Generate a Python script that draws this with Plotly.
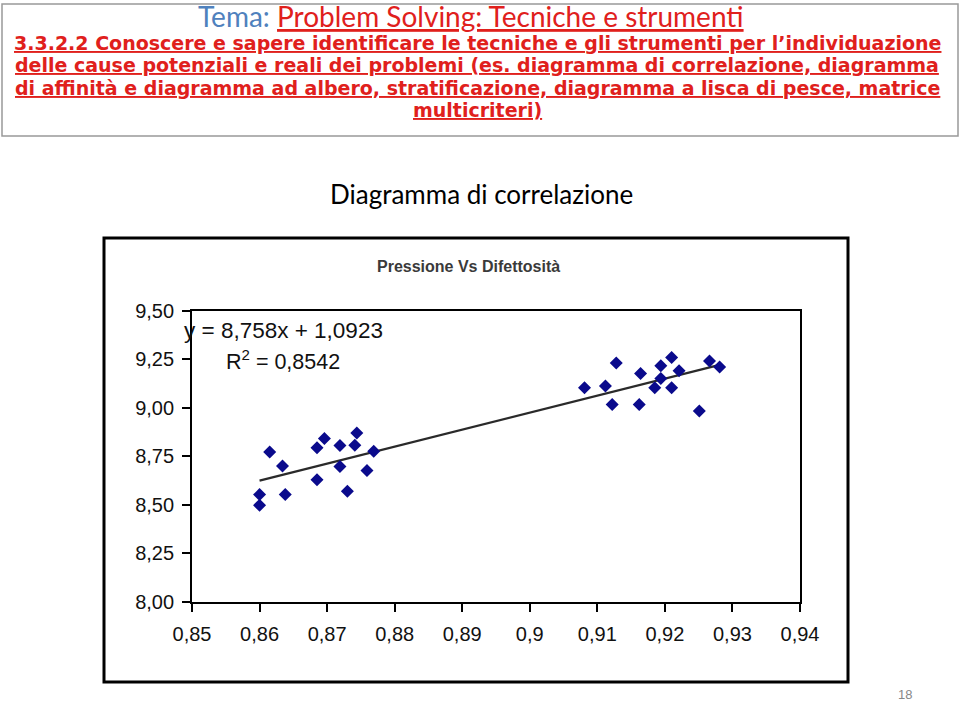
import plotly.graph_objects as go

W, H = 960, 703

# pressione (x) vs difettosità (y)
pressione = [
    0.8600, 0.8600, 0.8615, 0.8634, 0.8638, 0.8685, 0.8685, 0.8696,
    0.8719, 0.8719, 0.8730, 0.8741, 0.8744, 0.8759, 0.8769,
    0.9081, 0.9112, 0.9122, 0.9128, 0.9162, 0.9164, 0.9185, 0.9194,
    0.9194, 0.9210, 0.9210, 0.9221, 0.9251, 0.9266, 0.9281,
]
difettosita = [
    8.552, 8.497, 8.772, 8.700, 8.552, 8.629, 8.793, 8.841,
    8.805, 8.697, 8.569, 8.807, 8.869, 8.676, 8.776,
    9.103, 9.112, 9.017, 9.231, 9.017, 9.176, 9.103, 9.216,
    9.150, 9.259, 9.103, 9.190, 8.983, 9.241, 9.210,
]

# linear trendline as printed on the chart
slope, intercept = 8.758, 1.0923

x_ticks = [0.85, 0.86, 0.87, 0.88, 0.89, 0.90, 0.91, 0.92, 0.93, 0.94]
x_ticktext = ["0,85", "0,86", "0,87", "0,88", "0,89", "0,9", "0,91", "0,92", "0,93", "0,94"]
y_ticks = [8.00, 8.25, 8.50, 8.75, 9.00, 9.25, 9.50]
y_ticktext = ["8,00", "8,25", "8,50", "8,75", "9,00", "9,25", "9,50"]

header_lines = [
    "3.3.2.2 Conoscere e sapere identificare le tecniche e gli strumenti per l’individuazione",
    "delle cause potenziali e reali dei problemi (es. diagramma di correlazione, diagramma",
    "di affinità e diagramma ad albero, stratificazione, diagramma a lisca di pesce, matrice",
    "multicriteri)",
]

RED = "#E0201C"


def px(x):
    return x / W


def py(y):
    return 1 - y / H


trend_x = [min(pressione), max(pressione)]
trend_y = [slope * v + intercept for v in trend_x]

fig = go.Figure()

fig.add_trace(
    go.Scatter(
        x=trend_x,
        y=trend_y,
        mode="lines",
        line=dict(color="#2a2a2a", width=2.2),
        hoverinfo="skip",
    )
)

fig.add_trace(
    go.Scatter(
        x=pressione,
        y=difettosita,
        mode="markers",
        marker=dict(symbol="diamond", size=10, color="#0a0a8c"),
        name="Difettosità",
    )
)

axis_style = dict(
    ticks="outside",
    ticklen=8,
    tickwidth=1.5,
    tickcolor="black",
    showline=True,
    linecolor="black",
    linewidth=1.8,
    mirror=True,
    showgrid=False,
    zeroline=False,
    automargin=False,
    tickfont=dict(family="Liberation Sans", size=20, color="#111"),
)

fig.update_xaxes(
    domain=[px(192), px(800)],
    range=[0.85, 0.94],
    tickvals=x_ticks,
    ticktext=x_ticktext,
    ticklabelstandoff=5,
    **axis_style,
)
fig.update_yaxes(
    domain=[py(601.7), py(310.7)],
    range=[8.0, 9.5],
    tickvals=y_ticks,
    ticktext=y_ticktext,
    ticklabelstandoff=4,
    **axis_style,
)

shapes = [
    # header box
    dict(type="rect", xref="paper", yref="paper",
         x0=px(2), x1=px(958), y0=py(136), y1=py(4),
         line=dict(color="#999999", width=1.5)),
    # chart picture frame
    dict(type="rect", xref="paper", yref="paper",
         x0=px(104), x1=px(848), y0=py(682), y1=py(238),
         line=dict(color="black", width=3)),
]

annotations = [
    dict(text="<span style='color:#4F81BD'>Tema: </span><u>Problem Solving: Tecniche e strumenti</u>",
         x=px(471), y=py(15.5), font=dict(family="Lato", size=28, color=RED)),
    dict(text="Diagramma di correlazione",
         x=px(481), y=py(194), font=dict(family="Lato", size=26, color="black")),
    dict(text="<b>Pressione Vs Difettosità</b>",
         x=px(468), y=py(266), font=dict(family="Liberation Sans", size=16, color="#3a3a3a")),
    dict(text="y = 8,758x + 1,0923",
         x=px(182), y=py(330), xanchor="left", font=dict(family="Liberation Sans", size=22.5, color="#111")),
    dict(text="R<sup>2</sup> = 0,8542",
         x=px(224), y=py(360), xanchor="left", font=dict(family="Liberation Sans", size=21.5, color="#111")),
    dict(text="18", x=px(905), y=py(694), font=dict(family="Liberation Sans", size=13, color="#888888")),
]

for i, line in enumerate(header_lines):
    annotations.append(
        dict(text=f"<b><u>{line}</u></b>", x=px(477), y=py(42.5 + 22.6 * i),
             font=dict(family="DejaVu Sans", size=19, color=RED))
    )

for a in annotations:
    a.setdefault("xref", "paper")
    a.setdefault("yref", "paper")
    a.setdefault("showarrow", False)
    a.setdefault("xanchor", "center")
    a.setdefault("yanchor", "middle")

fig.update_layout(
    width=W,
    height=H,
    margin=dict(l=0, r=0, t=0, b=0, autoexpand=False),
    paper_bgcolor="white",
    plot_bgcolor="white",
    showlegend=False,
    shapes=shapes,
    annotations=annotations,
)

# page body has an 8px default margin; drop it so the figure sits at the window corner
fig.write_html(
    "out.html",
    config={"displayModeBar": False},
    post_script="document.body.style.margin = '0';",
)
